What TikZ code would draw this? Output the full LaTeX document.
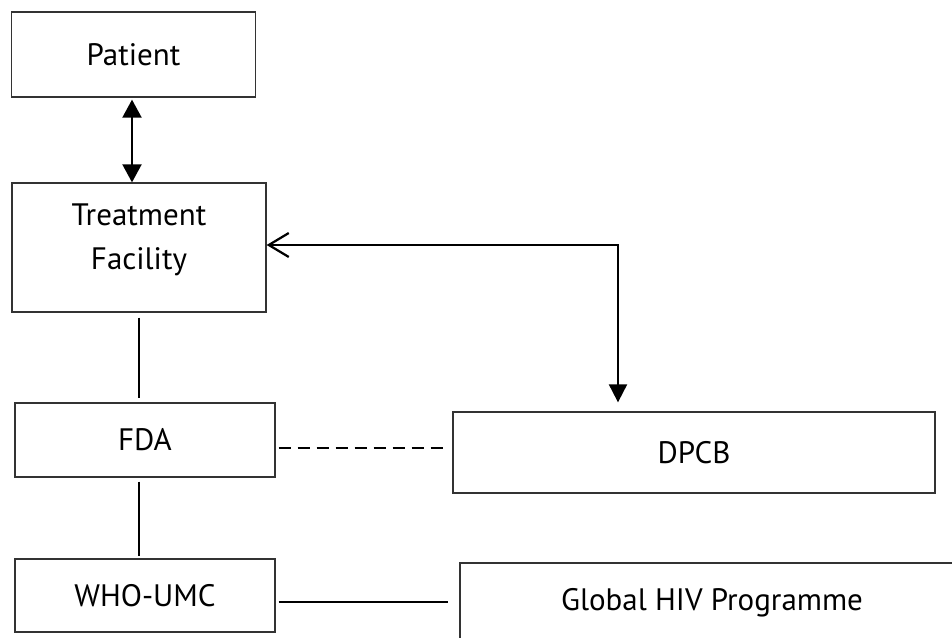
\documentclass[tikz,border=0pt]{standalone}
\usepackage{fontspec}
\setmainfont{PT Sans}
\usetikzlibrary{arrows.meta}
\begin{document}
\begin{tikzpicture}[x=1pt,y=-1pt,
  box/.style={draw=black!80,line width=1.3pt,rectangle,inner sep=0pt,align=center,font=\fontsize{31}{44}\selectfont},
  conn/.style={line width=2pt,black}]
\useasboundingbox (0,0) rectangle (952,637);
\clip (0,0) rectangle (952,637);
\node[box,minimum width=244pt,minimum height=85pt] (P) at (133.5,54.5) {Patient};
\node[box,minimum width=254pt,minimum height=129pt] (TF) at (139,247.5) {};
\node[font=\fontsize{31}{44}\selectfont,align=center] (TFt) at (139,240) {Treatment\\Facility};
\node[box,minimum width=260pt,minimum height=74pt] (FDA) at (145,440) {FDA};
\node[box,minimum width=482pt,minimum height=81pt] (DPCB) at (694,452.5) {DPCB};
\node[box,minimum width=260pt,minimum height=73pt] (WHO) at (145,595.5) {WHO-UMC};
\node[box,minimum width=504pt,minimum height=80pt] (GHP) at (712,603) {Global HIV Programme};
\coordinate (c) at (618,245);
\draw[conn,{Triangle[length=18pt,width=19pt]}-{Triangle[length=18pt,width=19pt]},shorten <=2pt] (P.south -| 132,0) -- (TF.north -| 132,0);
\draw[conn,{Straight Barb[length=20pt,width=24pt,line width=2.2pt]}-{Triangle[length=18pt,width=18pt]},shorten >=9pt] (TF.east |- c) -- (c) -- (DPCB.north -| c);
\draw[conn,line width=1.6pt,shorten <=5pt,shorten >=4pt] (TF.south -| 139,0) -- (FDA.north -| 139,0);
\draw[conn,line width=1.6pt,shorten <=4pt,shorten >=2pt] (FDA.south -| 139,0) -- (WHO.north -| 139,0);
\draw[conn,dashed,dash pattern=on 12pt off 7pt,shorten <=3pt,shorten >=4pt] (FDA.east |- 0,448) -- (DPCB.west |- 0,448);
\draw[conn,shorten <=3pt,shorten >=11pt] (WHO.east |- 0,602) -- (GHP.west |- 0,602);
\end{tikzpicture}
\end{document}
